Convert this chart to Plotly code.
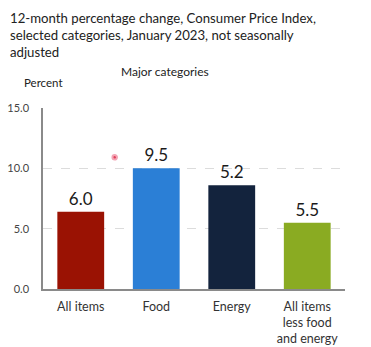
import plotly.graph_objects as go

categories = ["All items", "Food", "Energy", "All items<br>less food<br>and energy"]
bar_heights = [6.4, 10.0, 8.6, 5.5]
value_labels = ["6.0", "9.5", "5.2", "5.5"]
bar_colors = ["#9a1203", "#2b7fd6", "#13233d", "#8aab22"]
y_ticks = [0, 5, 10, 15]
y_tick_labels = ["0.0", "5.0", "10.0", "15.0"]

fig = go.Figure()
fig.add_trace(go.Bar(
    x=categories, y=bar_heights, marker=dict(color=bar_colors, line=dict(width=0)),
    text=value_labels, textposition="outside", cliponaxis=False,
    textfont=dict(family="Lato", size=17, color="#1a1a1a"),
    width=0.62, hoverinfo="skip",
))

fig.update_layout(
    width=371, height=347,
    margin=dict(l=43, r=26, t=108, b=58),
    paper_bgcolor="#ffffff", plot_bgcolor="#ffffff",
    showlegend=False,
    font=dict(family="Lato", color="#333"),
    xaxis=dict(showline=True, linecolor="#8a8a8a", linewidth=1.5, ticks="",
               tickfont=dict(family="Lato", size=12.5, color="#333"), showgrid=False,
               ticklabelstandoff=5, automargin=False),
    yaxis=dict(range=[0, 15], tickvals=y_ticks, ticktext=y_tick_labels,
               showline=True, linecolor="#8a8a8a", linewidth=1.5,
               showgrid=True, gridcolor="#dcdcdc", griddash="dash", gridwidth=1,
               tickfont=dict(family="Lato", size=11, color="#444"), zeroline=False,
               ticklabelstandoff=10, automargin=False),
    annotations=[
        dict(text="12-month percentage change, Consumer Price Index,<br>selected categories, January 2023, not seasonally<br>adjusted",
             xref="paper", yref="paper", x=-0.115, y=1.55, xanchor="left", yanchor="top",
             showarrow=False, align="left", font=dict(family="Lato", size=13.2, color="#222")),
        dict(text="Major categories", xref="paper", yref="paper", x=0.405, y=1.2,
             xanchor="center", yanchor="middle", showarrow=False,
             font=dict(family="Lato", size=12, color="#222")),
        dict(text="Percent", xref="paper", yref="paper", x=-0.07, y=1.14,
             xanchor="left", yanchor="middle", showarrow=False,
             font=dict(family="Lato", size=11.5, color="#222")),
    ],
    shapes=[
        dict(type="circle", xref="x", yref="paper", x0=0.42, x1=0.48, y0=0.715, y1=0.74,
             fillcolor="#e0405a", line=dict(color="#f3a5b5", width=2)),
    ],
)

fig.write_html("out.html")
